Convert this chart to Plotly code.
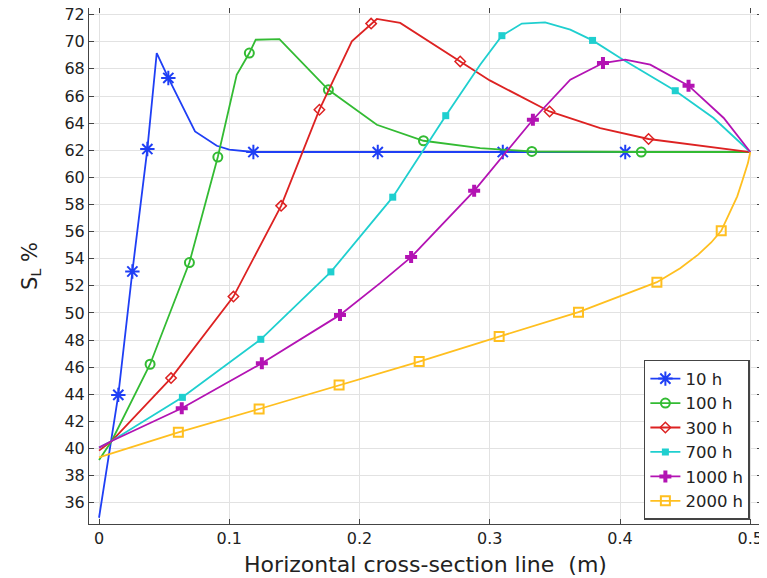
import plotly.graph_objects as go

# ---- data ----
names = ["10 h", "100 h", "300 h", "700 h", "1000 h", "2000 h"]

h10_x = [0, 0.0148, 0.0256, 0.0371, 0.0443, 0.0532, 0.0737, 0.0904, 0.1, 0.1185, 0.214, 0.31, 0.404, 0.5]
h10_y = [34.9, 43.96, 53.06, 62.09, 69.17, 67.33, 63.39, 62.33, 62.05, 61.87, 61.87, 61.87, 61.87, 61.87]
h10_mx = [0.0148, 0.0256, 0.0371, 0.0532, 0.1185, 0.214, 0.31, 0.404]
h10_my = [43.96, 53.06, 62.09, 67.33, 61.87, 61.87, 61.87, 61.87]

h100_x = [0, 0.0097, 0.0392, 0.0694, 0.0912, 0.1057, 0.1154, 0.1203, 0.1385, 0.1467, 0.1761, 0.2133, 0.2491, 0.2926, 0.3323, 0.4163, 0.5]
h100_y = [39.16, 40.56, 46.22, 53.72, 61.5, 67.57, 69.17, 70.15, 70.2, 69.4, 66.46, 63.88, 62.7, 62.16, 61.91, 61.87, 61.87]
h100_mx = [0.0392, 0.0694, 0.0912, 0.1154, 0.1761, 0.2491, 0.3323, 0.4163]
h100_my = [46.22, 53.72, 61.5, 69.17, 66.46, 62.7, 61.91, 61.87]

h300_x = [0, 0.0097, 0.0553, 0.1032, 0.1398, 0.1692, 0.1941, 0.2089, 0.2133, 0.2312, 0.2773, 0.3, 0.3459, 0.3848, 0.4219, 0.4693, 0.5]
h300_y = [39.85, 40.56, 45.2, 51.21, 57.9, 64.99, 70.03, 71.34, 71.68, 71.39, 68.55, 67.15, 64.86, 63.64, 62.83, 62.28, 61.87]
h300_mx = [0.0553, 0.1032, 0.1398, 0.1692, 0.2089, 0.2773, 0.3459, 0.4219]
h300_my = [45.2, 51.21, 57.9, 64.99, 71.34, 68.55, 64.86, 62.83]

h700_x = [0, 0.0097, 0.064, 0.1242, 0.178, 0.2255, 0.2662, 0.2926, 0.3093, 0.3246, 0.3425, 0.3618, 0.3789, 0.4002, 0.4424, 0.4718, 0.5]
h700_y = [40.07, 40.56, 43.78, 48.06, 53.03, 58.54, 64.55, 68.3, 70.45, 71.34, 71.43, 70.89, 70.1, 68.8, 66.39, 64.38, 61.87]
h700_mx = [0.064, 0.1242, 0.178, 0.2255, 0.2662, 0.3093, 0.3789, 0.4424]
h700_my = [43.78, 48.06, 53.03, 58.54, 64.55, 70.45, 70.1, 66.39]

h1000_x = [0, 0.0097, 0.0635, 0.125, 0.185, 0.2158, 0.2396, 0.288, 0.3331, 0.3618, 0.3869, 0.404, 0.4232, 0.4526, 0.4796, 0.5]
h1000_y = [40.07, 40.56, 42.97, 46.29, 49.86, 52.2, 54.12, 59.01, 64.25, 67.2, 68.43, 68.68, 68.31, 66.76, 64.38, 61.87]
h1000_mx = [0.0635, 0.125, 0.185, 0.2396, 0.288, 0.3331, 0.3869, 0.4526]
h1000_my = [42.97, 46.29, 49.86, 54.12, 59.01, 64.25, 68.43, 66.76]

h2000_x = [0, 0.0609, 0.1229, 0.1843, 0.2458, 0.3072, 0.3681, 0.4283, 0.4462, 0.46, 0.47, 0.4777, 0.484, 0.49, 0.4941, 0.4982, 0.5]
h2000_y = [39.36, 41.2, 42.92, 44.69, 46.42, 48.26, 50.06, 52.27, 53.3, 54.3, 55.2, 56.06, 57.3, 58.6, 59.8, 61.05, 61.87]
h2000_mx = [0.0609, 0.1229, 0.1843, 0.2458, 0.3072, 0.3681, 0.4283, 0.4777]
h2000_my = [41.2, 42.92, 44.69, 46.42, 48.26, 50.06, 52.27, 56.06]

x_ticks = [0, 0.1, 0.2, 0.3, 0.4, 0.5]
x_ticklabels = ["0", "0.1", "0.2", "0.3", "0.4", "0.5"]
y_ticks = list(range(36, 73, 2))

series = [
    (h10_x, h10_y, h10_mx, h10_my),
    (h100_x, h100_y, h100_mx, h100_my),
    (h300_x, h300_y, h300_mx, h300_my),
    (h700_x, h700_y, h700_mx, h700_my),
    (h1000_x, h1000_y, h1000_mx, h1000_my),
    (h2000_x, h2000_y, h2000_mx, h2000_my),
]

# ---- styles ----
colors = ["#1f3ff5", "#33bb33", "#dd2222", "#1fcfcf", "#b313b3", "#ffbf1f"]
symbols = ["asterisk-open", "circle-open", "diamond-open", "square", "cross", "square-open"]
msizes = [12, 9, 8, 7, 10, 9]
mlw = [2, 2, 1.5, 0, 0, 2]

fig = go.Figure()
for i, (xs, ys, mx, my) in enumerate(series):
    c = colors[i]
    fig.add_trace(go.Scatter(x=xs, y=ys, mode="lines", line=dict(color=c, width=1.8),
                             showlegend=False, hoverinfo="skip"))
    fig.add_trace(go.Scatter(x=mx, y=my, mode="markers",
                             marker=dict(symbol=symbols[i], size=msizes[i], color=c,
                                         line=dict(color=c, width=mlw[i])),
                             showlegend=False))
    # legend entry (line + marker)
    fig.add_trace(go.Scatter(x=[None], y=[None], mode="lines+markers", name=names[i],
                             line=dict(color=c, width=1.8),
                             marker=dict(symbol=symbols[i], size=msizes[i], color=c,
                                         line=dict(color=c, width=mlw[i]))))

axis_common = dict(showline=True, linecolor="#444", linewidth=1, mirror="ticks",
                   ticks="inside", ticklen=5, tickcolor="#444", automargin=False,
                   ticklabeloverflow="allow",
                   showgrid=True, gridcolor="#e2e2e2", gridwidth=1.3, zeroline=False,
                   tickfont=dict(size=16, color="#222"))

# page body adds an 8 px offset, so the figure is 759x570
fig.update_layout(
    width=759, height=570,
    margin=dict(l=81, r=5, t=0, b=54),
    paper_bgcolor="white", plot_bgcolor="white",
    font=dict(family="DejaVu Sans", color="#222"),
    xaxis=dict(range=[-0.0077, 0.509], tickvals=x_ticks, ticktext=x_ticklabels,
               title=dict(text="Horizontal cross-section line  (m)", font=dict(size=22), standoff=9),
               **axis_common),
    yaxis=dict(range=[34.44, 72.49], tickvals=y_ticks,
               title=dict(text="S<sub>L</sub> %", font=dict(size=21), standoff=21),
               **axis_common),
    legend=dict(x=0.982, y=0.008, xanchor="right", yanchor="bottom",
                bgcolor="white", bordercolor="#444", borderwidth=1.5,
                font=dict(size=16.5, color="#222"), tracegroupgap=0, itemwidth=30),
)

fig.write_html("out.html")
